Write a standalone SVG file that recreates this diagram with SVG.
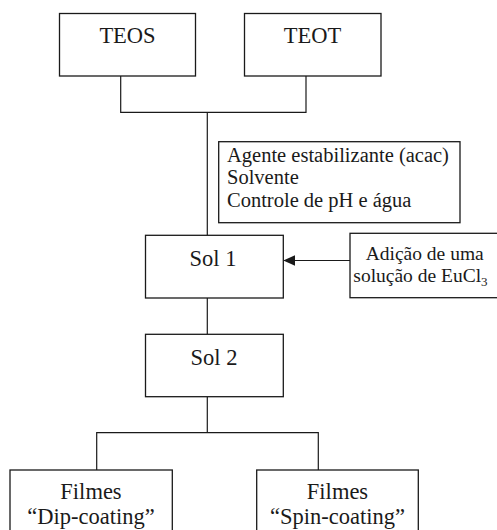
<svg xmlns="http://www.w3.org/2000/svg" width="497" height="530" viewBox="0 0 497 530">
<style>
.box{fill:#fff;stroke:#1a1a1a;stroke-width:1.3}
.t{font-family:"Liberation Serif","Times New Roman",serif;fill:#1a1a1a}
.big{font-size:22.5px}
.mid{font-size:20.5px}
.sm{font-size:19.5px}
.c{text-anchor:middle}
.ln{fill:none;stroke:#1a1a1a;stroke-width:1.2}
</style>
<defs>
<marker id="ah" markerWidth="12" markerHeight="12" refX="12" refY="6" orient="auto" markerUnits="userSpaceOnUse">
<path d="M0,0.5 L12,6 L0,11.5 Z" fill="#1a1a1a"/>
</marker>
</defs>
<g id="connectors">
<polyline class="ln" points="120.7,76 120.7,112.3 306,112.3 306,76"/>
<line class="ln" x1="207.3" y1="112.3" x2="207.3" y2="235.3"/>
<line class="ln" x1="207.3" y1="298" x2="207.3" y2="334.3"/>
<line class="ln" x1="207.3" y1="396.7" x2="207.3" y2="432.7"/>
<polyline class="ln" points="96.7,470 96.7,432.7 318.3,432.7 318.3,470"/>
<line class="ln" x1="350" y1="260.5" x2="283.3" y2="260.5" marker-end="url(#ah)"/>
</g>
<g id="teos">
<rect class="box" x="59.5" y="13.5" width="136" height="62.5"/>
<text class="t big c" x="127.5" y="43.3">TEOS</text>
</g>
<g id="teot">
<rect class="box" x="244.5" y="13.5" width="136.5" height="62.5"/>
<text class="t big c" x="312.5" y="43.3">TEOT</text>
</g>
<g id="aditivos">
<rect class="box" x="218.7" y="141.7" width="241.3" height="81"/>
<text class="t mid" x="227" y="161.7">Agente estabilizante (acac)</text>
<text class="t mid" x="227" y="184.3">Solvente</text>
<text class="t mid" x="227" y="206.7">Controle de pH e água</text>
</g>
<g id="sol1">
<rect class="box" x="145.5" y="235.3" width="137.8" height="62.7"/>
<text class="t big c" x="213" y="266.3">Sol 1</text>
</g>
<g id="eucl3">
<rect class="box" x="350" y="233.3" width="160" height="64.4"/>
<text class="t sm" x="365.7" y="259.5">Adição de uma</text>
<text class="t sm" x="353.3" y="281.7">solução de EuCl<tspan font-size="13" dy="4">3</tspan></text>
</g>
<g id="sol2">
<rect class="box" x="145.5" y="334.3" width="137.8" height="62.4"/>
<text class="t big c" x="214" y="365">Sol 2</text>
</g>
<g id="dip">
<rect class="box" x="10" y="470" width="162.3" height="80"/>
<text class="t big c" x="91" y="499.3">Filmes</text>
<text class="t big c" x="91" y="523.5">“Dip-coating”</text>
</g>
<g id="spin">
<rect class="box" x="256.7" y="470" width="161.6" height="80"/>
<text class="t big c" x="337.5" y="499.3">Filmes</text>
<text class="t big c" x="337.5" y="523.5">“Spin-coating”</text>
</g>
</svg>
